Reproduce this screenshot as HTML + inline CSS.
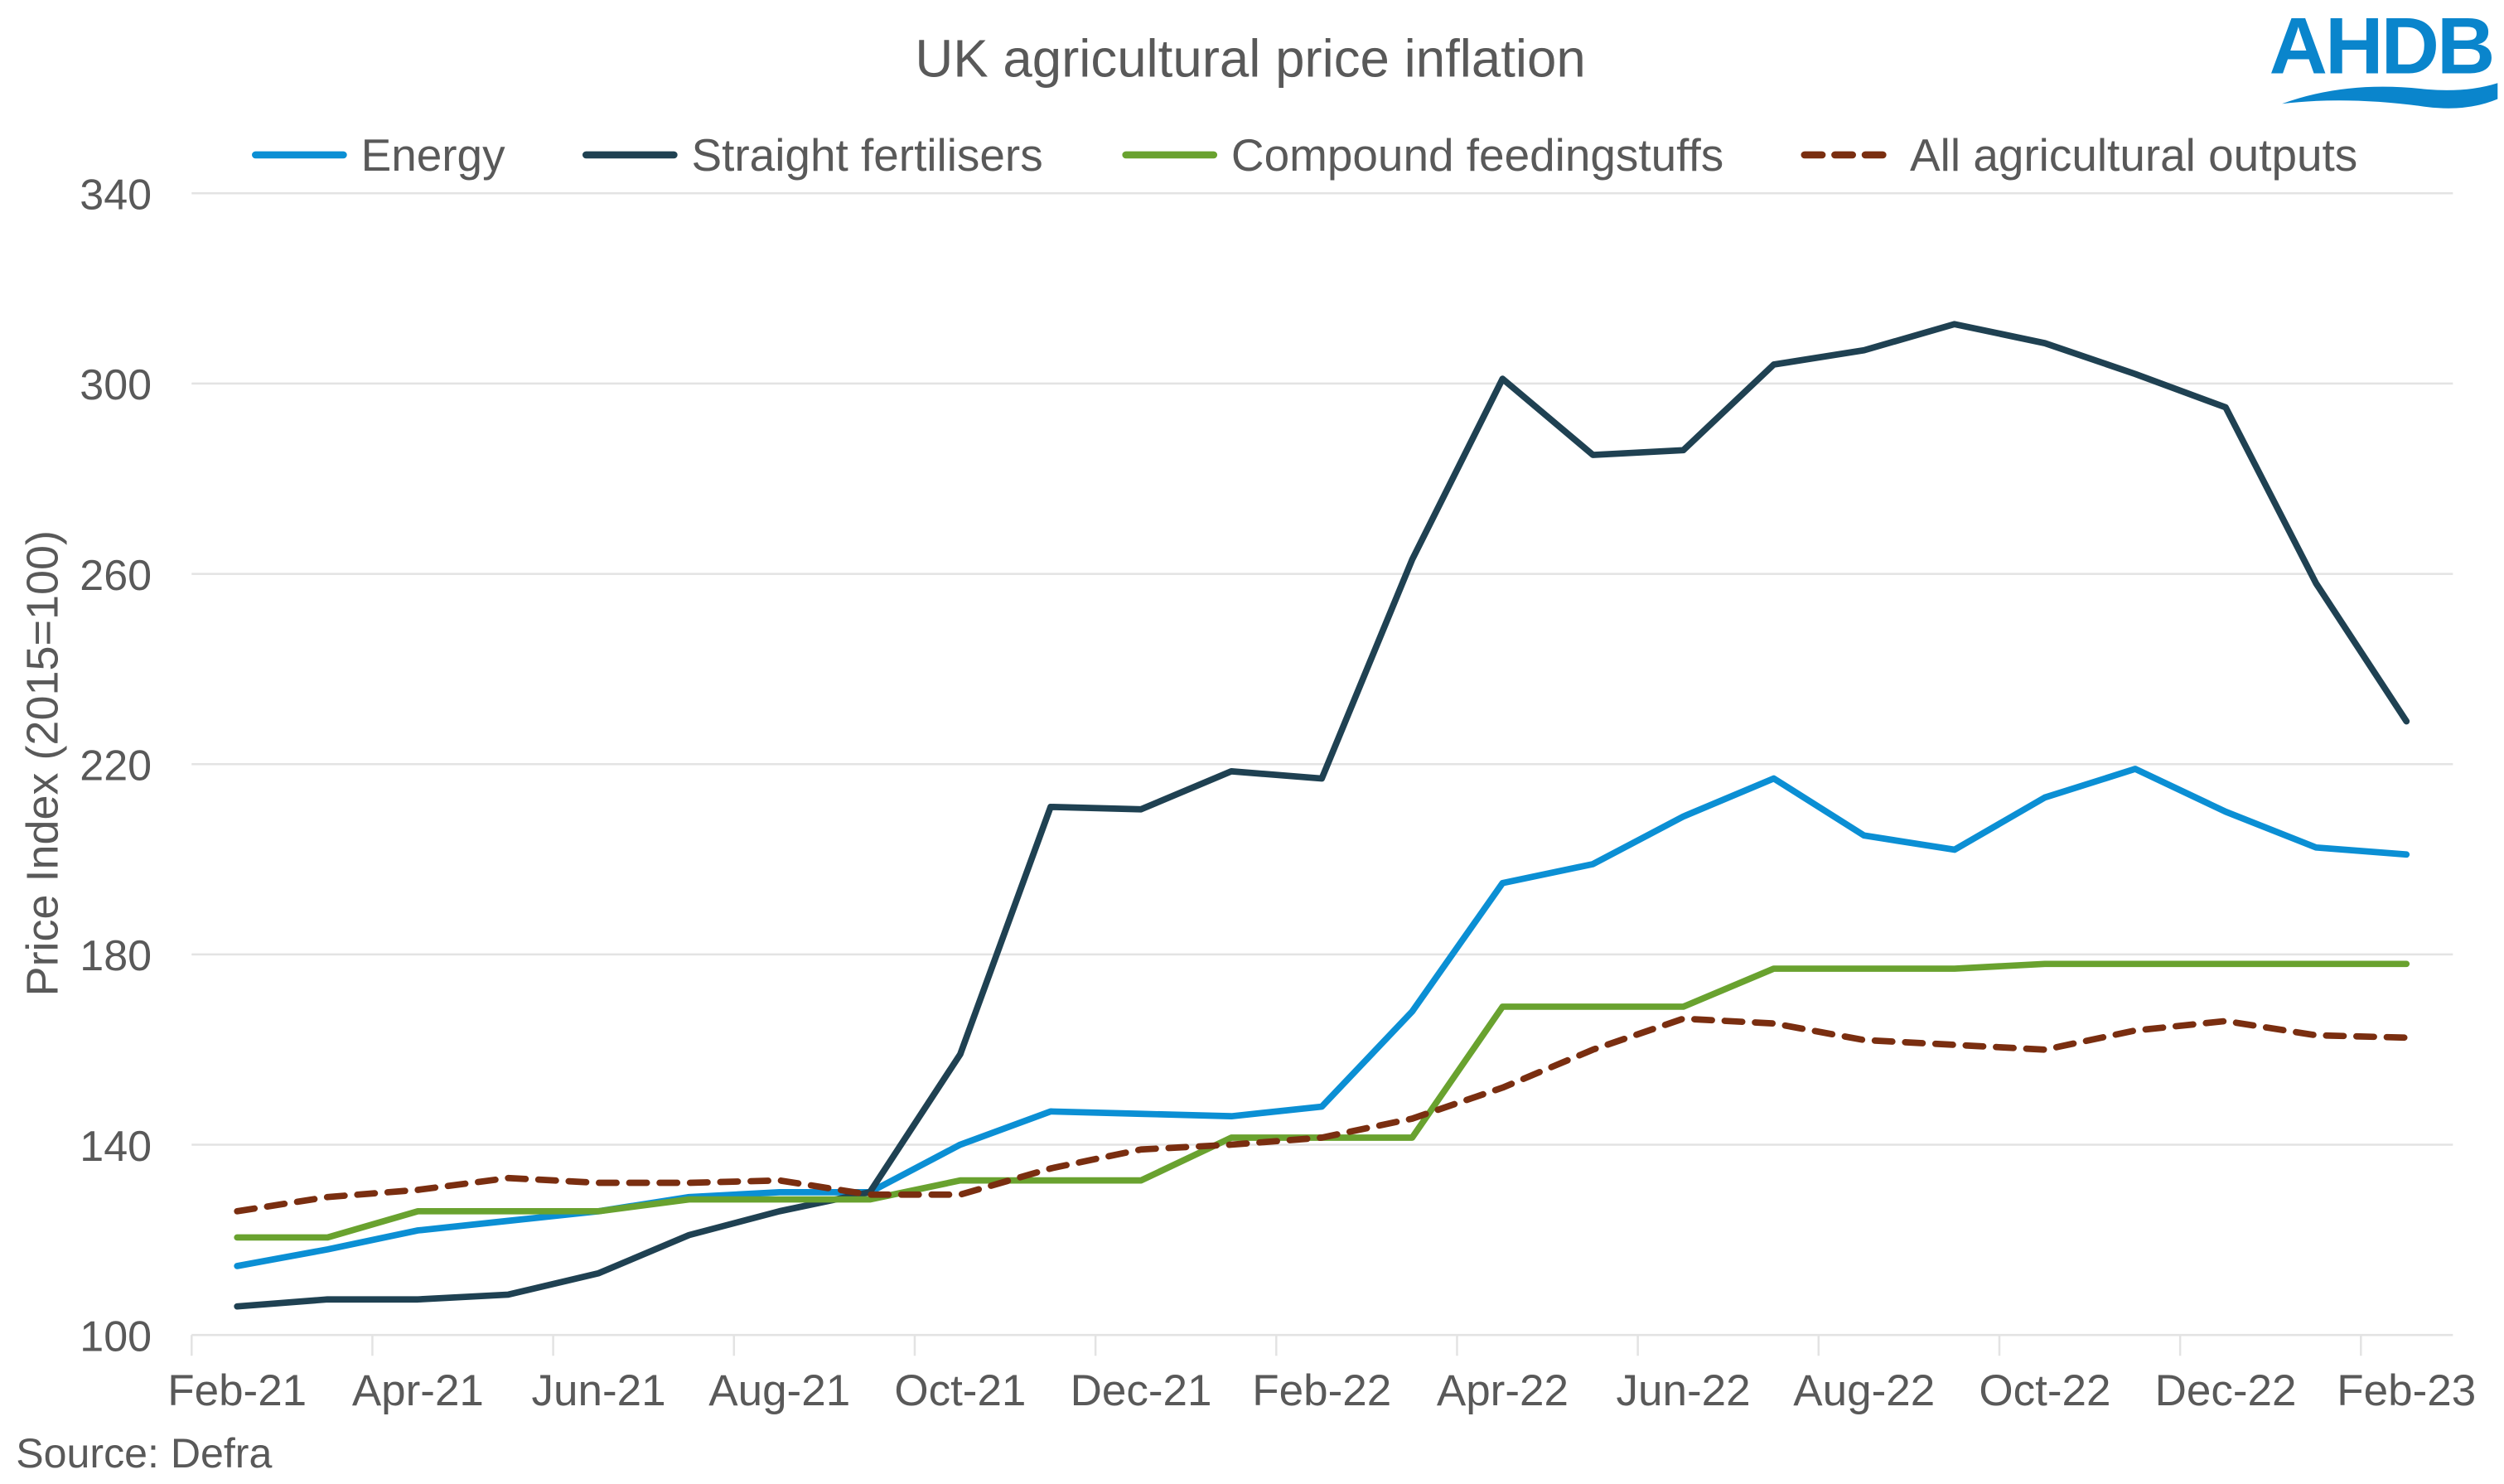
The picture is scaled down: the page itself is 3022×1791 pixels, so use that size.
<!DOCTYPE html>
<html><head><meta charset="utf-8"><style>
html,body{margin:0;padding:0;background:#fff;}
svg{display:block;}
text{font-family:"Liberation Sans",Arial,sans-serif;fill:#595959;}
</style></head><body>
<svg id="s" width="3022" height="1791" viewBox="0 0 1568 929.3" preserveAspectRatio="none" xmlns="http://www.w3.org/2000/svg">
<rect width="1568" height="930" fill="#fff"/>
<text x="783" y="48" font-size="33" text-anchor="middle">UK agricultural price inflation</text>
<g font-size="28.5">
<line x1="160" y1="97" x2="215" y2="97" stroke="#0b8fd4" stroke-width="4.5" stroke-linecap="round"/>
<text x="226" y="107">Energy</text>
<line x1="367" y1="97" x2="422" y2="97" stroke="#1f4152" stroke-width="4.5" stroke-linecap="round"/>
<text x="433" y="107">Straight fertilisers</text>
<line x1="705" y1="97" x2="760" y2="97" stroke="#69a22f" stroke-width="4.5" stroke-linecap="round"/>
<text x="771" y="107">Compound feedingstuffs</text>
<line x1="1130" y1="97" x2="1185" y2="97" stroke="#7a2e10" stroke-width="4.5" stroke-dasharray="11 8" stroke-linecap="round"/>
<text x="1196" y="107">All agricultural outputs</text>
</g>
<text x="1491" y="46" font-size="50" font-weight="bold" style="fill:#0a85cc" text-anchor="middle" letter-spacing="-1.5" textLength="140" lengthAdjust="spacingAndGlyphs">AHDB</text>
<path d="M1429 65 Q1470 50 1520 56 Q1545 58 1564 52 L1564 62 Q1545 70 1520 67 Q1470 60 1429 65 Z" fill="#0a85cc"/>
<g id="grid" stroke="#e3e3e3" stroke-width="1.3"></g>
<g font-size="27" text-anchor="end" id="yl"></g>
<text transform="translate(36,478) rotate(-90)" font-size="28" text-anchor="middle">Price Index (2015=100)</text>
<g font-size="27.5" text-anchor="middle" id="xl"></g>
<text x="10" y="919" font-size="26">Source: Defra</text>
<g id="lines" fill="none" stroke-width="4" stroke-linejoin="round" stroke-linecap="round"></g>
</svg>
<script>
var NS="http://www.w3.org/2000/svg";
function Y(v){return 836-(v-100)*2.979;}
function X(i){return 148.5+i*56.6;}
var g=document.getElementById("grid"),yl=document.getElementById("yl"),xl=document.getElementById("xl"),L=document.getElementById("lines");
function el(t,a,p){var e=document.createElementNS(NS,t);for(var k in a)e.setAttribute(k,a[k]);p.appendChild(e);return e;}
for(var v=100;v<=340;v+=40){el("line",{x1:120,x2:1536,y1:Y(v),y2:Y(v)},g);var t=el("text",{x:95,y:Y(v)+10},yl);t.textContent=v;}
for(var i=0;i<=12;i++){var x=120+i*113.2;el("line",{x1:x,x2:x,y1:836,y2:849},g);}
var labs=["Feb-21","Apr-21","Jun-21","Aug-21","Oct-21","Dec-21","Feb-22","Apr-22","Jun-22","Aug-22","Oct-22","Dec-22","Feb-23"];
for(var i=0;i<13;i++){var t=el("text",{x:X(2*i),y:880},xl);t.textContent=labs[i];}
var D=[
["#0b8fd4",[114.5,118,122,124,126,129,130,130,140,147,146.5,146,148,168,195,199,209,217,205,202,213,219,210,202.5,201],null],
["#1f4152",[106,107.5,107.5,108.5,113,121,126,130,159,211,210.5,218.5,217,263,301,285,286,304,307,312.5,308.5,302,295,258,229],null],
["#69a22f",[120.5,120.5,126,126,126,128.5,128.5,128.5,132.5,132.5,132.5,141.5,141.5,141.5,169,169,169,177,177,177,178,178,178,178,178],null],
["#7a2e10",[126,129,130.5,133,132,132,132.5,129.5,129.5,135,139,140,141.5,145.5,152,160,166.5,165.5,162,161,160,164,166,163,162.5],"11 8"]];
D.forEach(function(d){var p=d[1].map(function(v,i){return X(i).toFixed(1)+","+Y(v).toFixed(1);}).join(" ");var a={points:p,stroke:d[0]};if(d[2])a["stroke-dasharray"]=d[2];el("polyline",a,L);});
</script>
</body></html>
